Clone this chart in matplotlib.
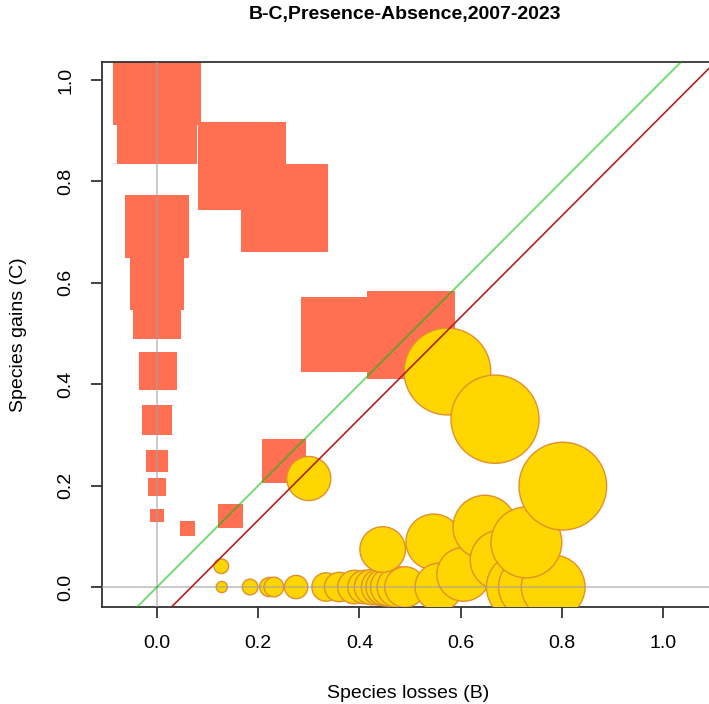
import matplotlib.pyplot as plt
from matplotlib.patches import Rectangle, Circle

plt.rcParams['font.family'] = ['Liberation Sans', 'DejaVu Sans']

# sites where gains exceed losses (drawn as squares)
sq_b = [0.000, 0.000, 0.168, 0.252, 0.000, 0.000, 0.000, 0.002, 0.000, 0.000,
        0.000, 0.000, 0.060, 0.145, 0.251, 0.358, 0.502]
sq_c = [0.998, 0.913, 0.830, 0.747, 0.711, 0.599, 0.537, 0.426, 0.330, 0.249,
        0.197, 0.141, 0.115, 0.140, 0.248, 0.498, 0.497]
sq_size = [0.174, 0.159, 0.174, 0.173, 0.125, 0.105, 0.095, 0.075, 0.059, 0.0435,
           0.035, 0.026, 0.030, 0.049, 0.087, 0.148, 0.174]

# sites where losses exceed gains (drawn as circles)
ci_b = [0.127, 0.128, 0.184, 0.222, 0.231, 0.275, 0.300, 0.334, 0.360, 0.390,
        0.410, 0.425, 0.440, 0.450, 0.460, 0.475, 0.446, 0.490, 0.547, 0.557,
        0.606, 0.648, 0.678, 0.717, 0.738, 0.783, 0.730, 0.574, 0.668, 0.802]
ci_c = [0.041, 0.000, 0.000, 0.000, 0.000, 0.000, 0.214, 0.000, 0.000, 0.000,
        0.000, 0.000, 0.000, 0.000, 0.000, 0.000, 0.074, 0.000, 0.089, 0.000,
        0.025, 0.118, 0.053, 0.000, 0.000, 0.000, 0.088, 0.425, 0.331, 0.199]
ci_size = [0.0145, 0.011, 0.0155, 0.019, 0.0194, 0.023, 0.0435, 0.028, 0.029, 0.033,
           0.033, 0.035, 0.036, 0.037, 0.038, 0.040, 0.045, 0.040, 0.055, 0.047,
           0.053, 0.063, 0.059, 0.066, 0.063, 0.063, 0.070, 0.0856, 0.087, 0.0866]

# 1:1 line and fitted line
fit_intercept = -0.068
fit_slope = 1.0

fig = plt.figure(figsize=(7.09, 7.04), dpi=100)
ax = fig.add_axes([102/709, 97/704, 613/709, 545/704])

for b, c, s in zip(sq_b, sq_c, sq_size):
    ax.add_patch(Rectangle((b - s/2, c - s/2), s, s, facecolor="#FF7052",
                           edgecolor="none", zorder=2))

for b, c, r in zip(ci_b, ci_c, ci_size):
    ax.add_patch(Circle((b, c), r, facecolor="#FFD600", edgecolor="#E0902E",
                        linewidth=1.0, zorder=3))

ax.axhline(0, color="#A0A0A0", alpha=0.65, linewidth=1.2, zorder=4)
ax.axvline(0, color="#A0A0A0", alpha=0.65, linewidth=1.2, zorder=4)
ax.axline((0, 0), slope=1, color="#00C000", alpha=0.55, linewidth=1.4, zorder=5)
ax.axline((0, fit_intercept), slope=fit_slope, color="#B22222", linewidth=1.2, zorder=6)

ax.set_xlim(-0.1087, 1.1028)
ax.set_ylim(-0.0394, 1.0355)

ticks = [0.0, 0.2, 0.4, 0.6, 0.8, 1.0]
ax.set_xticks(ticks)
ax.set_yticks(ticks)
ax.set_xticklabels(["%.1f" % t for t in ticks], fontsize=14)
ax.set_yticklabels(["%.1f" % t for t in ticks], fontsize=14, rotation=90, va="center")
ax.tick_params(direction="out", length=8, width=1.2, color="#222222", pad=12)

for side in ["left", "bottom", "top", "right"]:
    ax.spines[side].set_linewidth(1.3)
    ax.spines[side].set_color("#333333")

ax.set_xlabel("Species losses (B)", fontsize=14, labelpad=24)
ax.set_ylabel("Species gains (C)", fontsize=14, labelpad=22)
fig.text(0.571, 0.98, "B-C,Presence-Absence,2007-2023", fontsize=14,
         fontweight="bold", ha="center", va="center")

fig.savefig("out.png", dpi=100)
